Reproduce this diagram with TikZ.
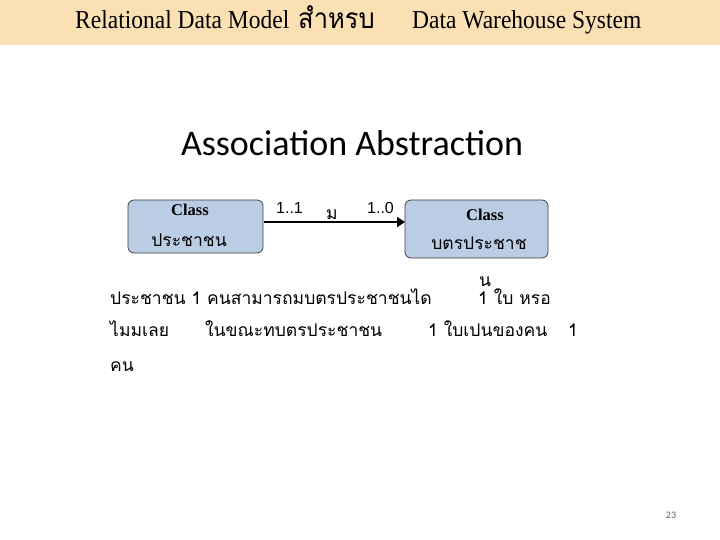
\documentclass[tikz,border=0pt]{standalone}
\usepackage{fontspec}
\setmainfont{Liberation Serif}
\newfontfamily\thaifnt[Script=Thai]{Loma}
\newfontfamily\calfnt{Carlito}
\newfontfamily\arialfnt{Liberation Sans}
\usetikzlibrary{arrows.meta}
\definecolor{band}{RGB}{251,224,180}
\definecolor{boxfill}{RGB}{186,205,229}
\tikzset{
  classbox/.style={draw=black!75, fill=boxfill, rounded corners=6pt, line width=0.8pt, anchor=north west},
  th/.style={font=\thaifnt\fontsize{17.5}{19}\selectfont, inner sep=0pt, anchor=base west},
  mult/.style={font=\arialfnt\fontsize{16}{18}\selectfont, inner sep=0pt, anchor=base west},
  hdr/.style={font=\fontsize{23.5}{26}\selectfont, inner sep=0pt, anchor=base west, yscale=1.1, transform shape},
  clsname/.style={font=\bfseries\fontsize{16.5}{18}\selectfont, inner sep=0pt},
}
\begin{document}
\begin{tikzpicture}[x=1pt,y=-1pt]
\useasboundingbox (0,0) rectangle (720,540);
\fill[band] (0,0) rectangle (720,45);
\node[hdr] (h1) at (75,29) {Relational Data Model};
\node[hdr, font=\thaifnt\fontsize{25.5}{28}\selectfont] (h1b) at (298,29) {สำหรบ};
\node[hdr] (h2) at (412,29) {Data Warehouse System};
\node[font=\calfnt\fontsize{36}{40}\selectfont, inner sep=0pt] (title) at (352,143) {Association Abstraction};
% boxes
\path[classbox] (128,200) rectangle (263,253);
\node[classbox, draw=none, fill=none, minimum width=135pt, minimum height=53pt, inner sep=0pt] (c1) at (128,200) {};
\path[classbox] (405,200) rectangle (548,258);
\node[classbox, draw=none, fill=none, minimum width=143pt, minimum height=58pt, inner sep=0pt] (c2) at (405,200) {};
\node[clsname] (c1a) at (190,210) {Class};
\node[font=\thaifnt\fontsize{17.5}{19}\selectfont, inner sep=0pt] (c1b) at (189,240) {ประชาชน};
\node[clsname] (c2a) at (485,215) {Class};
\node[font=\thaifnt\fontsize{17.5}{19}\selectfont, inner sep=0pt] (c2b) at (479,243) {บตรประชาช};
\draw[line width=2.8pt, -{Triangle[length=8pt,width=10pt]}] (c1.east |- 0,222) -- (c2.west |- 0,222);
\node[mult] (m1) at (276,214) {1..1};
\node[th] (m2) at (326,219) {ม};
\node[mult] (m3) at (367,214) {1..0};
% body text
\node[th] (t1) at (110,304) {ประชาชน 1 คนสามารถมบตรประชาชนได};
\node[th] (t1b) at (479,286) {น};
\node[th] (t1c) at (478,304) {1 ใบ หรอ};
\node[th] (t2) at (110,336) {ไมมเลย};
\node[th] (t2b) at (205,336) {ในขณะทบตรประชาชน};
\node[th] (t2c) at (428,336) {1 ใบเปนของคน};
\node[th] (t2d) at (568,336) {1};
\node[th] (t3) at (110,371) {คน};
\node[font=\calfnt\fontsize{10}{12}\selectfont, text=black!65, inner sep=0pt] (pg) at (671,515) {23};
\end{tikzpicture}
\end{document}
